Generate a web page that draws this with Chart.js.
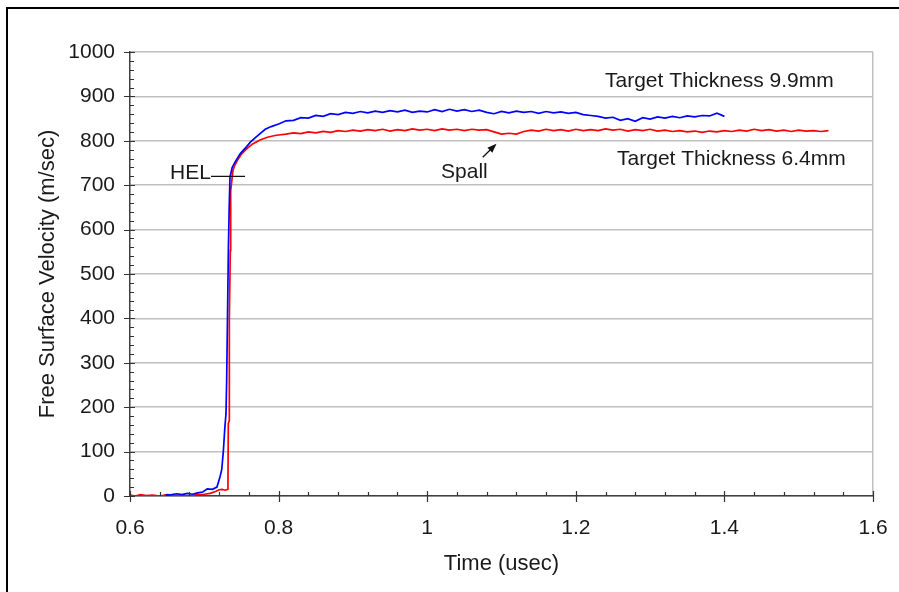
<!DOCTYPE html>
<html>
<head>
<meta charset="utf-8">
<title>Free Surface Velocity</title>
<script src="https://cdn.jsdelivr.net/npm/chart.js@4/dist/chart.umd.min.js"></script>
<style>
  html, body { margin: 0; padding: 0; background: #fff; }
  canvas { display: block; }
</style>
</head>
<body>
<canvas id="velocityChart" width="899" height="592"></canvas>
<script>
// values
const xTicks = [0.6, 0.8, 1, 1.2, 1.4, 1.6];
const yTicks = [0, 100, 200, 300, 400, 500, 600, 700, 800, 900, 1000];

// Target thickness 9.9mm (blue)
const thickTime = [
  0.648, 0.656, 0.663, 0.670, 0.677, 0.684, 0.691, 0.698, 0.704, 0.711,
  0.717, 0.721, 0.7235, 0.7256, 0.7275, 0.7292, 0.7301, 0.7312, 0.7324, 0.7335,
  0.7346, 0.7375, 0.7413, 0.745, 0.748, 0.752, 0.757, 0.762, 0.768, 0.775,
  0.782, 0.790,
  0.80, 0.81, 0.82, 0.83, 0.84, 0.85, 0.86, 0.87, 0.88, 0.89,
  0.90, 0.91, 0.92, 0.93, 0.94, 0.95, 0.96, 0.97, 0.98, 0.99,
  1.00, 1.01, 1.02, 1.03, 1.04, 1.05, 1.06, 1.07, 1.08, 1.09,
  1.10, 1.11, 1.12, 1.13, 1.14, 1.15, 1.16, 1.17, 1.18, 1.19,
  1.20, 1.21, 1.22, 1.23, 1.24, 1.25, 1.26, 1.27, 1.28, 1.29,
  1.30, 1.31, 1.32, 1.33, 1.34, 1.35, 1.36, 1.37, 1.38, 1.39,
  1.40
];
const thickVel = [
  2, 3, 5, 3, 6, 4, 7, 9, 16, 15,
  20, 42, 60, 100, 150, 186, 260, 400, 553, 650,
  718, 740, 752, 762, 770, 778, 787, 797, 806, 816,
  826, 832,
  838, 845, 846, 852, 851, 857, 855, 861, 859, 864,
  862, 866, 863, 867, 864, 868, 865, 869, 864, 867,
  865, 870, 866, 871, 867, 870, 866, 869, 864, 861,
  866, 863, 867, 864, 866, 862, 866, 863, 865, 862,
  864, 859, 857, 855, 851, 853, 846, 850, 844, 852,
  849, 854, 851, 855, 852, 856, 854, 857, 856, 862,
  855
];

// Target thickness 6.4mm (red)
const thinTime = [
  0.600, 0.607, 0.614, 0.622, 0.630, 0.640, 0.650, 0.660, 0.670, 0.680,
  0.690, 0.700, 0.708, 0.715, 0.720, 0.724, 0.728, 0.7318, 0.7323, 0.7337,
  0.7337, 0.7350, 0.7355, 0.7386, 0.741, 0.745, 0.750, 0.757, 0.765, 0.775,
  0.785, 0.795,
  0.80, 0.81, 0.82, 0.83, 0.84, 0.85, 0.86, 0.87, 0.88, 0.89,
  0.90, 0.91, 0.92, 0.93, 0.94, 0.95, 0.96, 0.97, 0.98, 0.99,
  1.00, 1.01, 1.02, 1.03, 1.04, 1.05, 1.06, 1.07, 1.08, 1.09,
  1.10, 1.11, 1.12, 1.13, 1.14, 1.15, 1.16, 1.17, 1.18, 1.19,
  1.20, 1.21, 1.22, 1.23, 1.24, 1.25, 1.26, 1.27, 1.28, 1.29,
  1.30, 1.31, 1.32, 1.33, 1.34, 1.35, 1.36, 1.37, 1.38, 1.39,
  1.40, 1.41, 1.42, 1.43, 1.44, 1.45, 1.46, 1.47, 1.48, 1.49,
  1.50, 1.51, 1.52, 1.53, 1.54
];
const thinVel = [
  2, 0, 3, 1, 2, 0, 3, 1, 2, 0,
  3, 4, 6, 10, 14, 15, 13, 15, 163, 170,
  400, 553, 688, 733, 745, 757, 770, 782, 793, 802,
  808, 812,
  813, 815, 818, 816, 820, 818, 821, 819, 823, 821,
  824, 822, 825, 823, 826, 822, 825, 823, 827, 824,
  826, 823, 827, 824, 826, 823, 826, 824, 825, 820,
  815, 817, 815, 821, 824, 822, 826, 823, 825, 822,
  826, 823, 825, 823, 827, 824, 826, 822, 825, 823,
  826, 822, 824, 821, 823, 820, 822, 819, 822, 820,
  823, 821, 824, 822, 826, 823, 825, 822, 824, 821,
  824, 822, 823, 821, 823
];

// text notes placed in data units
const notes = [
  { text: 'Target Thickness 9.9mm', x: 1.2393, y: 922 },
  { text: 'Target Thickness 6.4mm', x: 1.2555, y: 745 },
  { text: 'Spall', x: 1.0186, y: 716 },
  { text: 'HEL', x: 0.6538, y: 715 }
];

const FONT = '"Liberation Sans", Arial, sans-serif';
const TEXT = '#1a1a1a';

const toPoints = (xs, ys) => xs.map((x, i) => ({ x: x, y: ys[i] }));

const decorations = {
  id: 'decorations',
  beforeDraw(chart) {
    const ctx = chart.ctx;
    ctx.save();
    ctx.fillStyle = '#fff';
    ctx.fillRect(0, 0, chart.width, chart.height);
    ctx.restore();
  },
  afterDatasetsDraw(chart) {
    const { ctx, chartArea, scales: { x, y } } = chart;
    ctx.save();

    // minor and major tick marks
    ctx.strokeStyle = '#333';
    ctx.lineWidth = 1.2;
    ctx.beginPath();
    for (let k = 0; k <= 50; k++) {
      const py = Math.round(y.getPixelForValue(k * 20)) + 0.5;
      if (k % 5 === 0) {
        ctx.moveTo(chartArea.left - 6, py);
        ctx.lineTo(chartArea.left + 5, py);
      } else {
        ctx.moveTo(chartArea.left, py);
        ctx.lineTo(chartArea.left + 4, py);
      }
    }
    for (let k = 0; k <= 25; k++) {
      const px = Math.round(x.getPixelForValue(0.6 + k * 0.04)) + 0.5;
      if (k % 5 === 0) {
        ctx.moveTo(px, chartArea.bottom - 5);
        ctx.lineTo(px, chartArea.bottom + 6);
      } else {
        ctx.moveTo(px, chartArea.bottom - 4);
        ctx.lineTo(px, chartArea.bottom);
      }
    }
    ctx.stroke();

    // notes
    ctx.fillStyle = TEXT;
    ctx.font = '21px ' + FONT;
    ctx.textBaseline = 'alphabetic';
    ctx.textAlign = 'left';
    notes.forEach(n => {
      ctx.fillText(n.text, x.getPixelForValue(n.x), y.getPixelForValue(n.y));
    });

    // HEL marker line
    ctx.strokeStyle = '#111';
    ctx.lineWidth = 1.3;
    ctx.beginPath();
    ctx.moveTo(x.getPixelForValue(0.709), y.getPixelForValue(720));
    ctx.lineTo(x.getPixelForValue(0.7548), y.getPixelForValue(720));
    ctx.stroke();

    // spall arrow
    const x0 = x.getPixelForValue(1.0747), y0 = y.getPixelForValue(763);
    const x1 = x.getPixelForValue(1.0913), y1 = y.getPixelForValue(790);
    const ang = Math.atan2(y1 - y0, x1 - x0);
    ctx.beginPath();
    ctx.moveTo(x0, y0);
    ctx.lineTo(x1, y1);
    ctx.stroke();
    ctx.fillStyle = '#111';
    ctx.beginPath();
    ctx.moveTo(x1 + 2 * Math.cos(ang), y1 + 2 * Math.sin(ang));
    ctx.lineTo(x1 - 8 * Math.cos(ang - 0.45), y1 - 8 * Math.sin(ang - 0.45));
    ctx.lineTo(x1 - 8 * Math.cos(ang + 0.45), y1 - 8 * Math.sin(ang + 0.45));
    ctx.closePath();
    ctx.fill();

    ctx.restore();
  },
  afterDraw(chart) {
    // outer frame (left and top edges only are in view)
    const ctx = chart.ctx;
    ctx.save();
    ctx.fillStyle = '#000';
    ctx.fillRect(6, 7, 2, chart.height - 7);
    ctx.fillRect(6, 7, chart.width - 6, 2);
    ctx.restore();
  }
};

new Chart(document.getElementById('velocityChart'), {
  type: 'scatter',
  data: {
    datasets: [
      {
        label: 'Target Thickness 9.9mm',
        data: toPoints(thickTime, thickVel),
        showLine: true,
        borderColor: '#0000ff',
        borderWidth: 1.7,
        pointRadius: 0
      },
      {
        label: 'Target Thickness 6.4mm',
        data: toPoints(thinTime, thinVel),
        showLine: true,
        borderColor: '#ff0000',
        borderWidth: 1.7,
        pointRadius: 0
      }
    ]
  },
  options: {
    responsive: false,
    animation: false,
    layout: { padding: { top: 52, right: 26, left: 0, bottom: 0 } },
    plugins: {
      legend: { display: false },
      tooltip: { enabled: false }
    },
    scales: {
      x: {
        type: 'linear',
        min: 0.6,
        max: 1.6,
        afterBuildTicks: s => { s.ticks = xTicks.map(v => ({ value: v })); },
        afterFit: s => {
          s.height = 96;
          s.paddingLeft = 0;
          s.paddingRight = 0;
        },
        ticks: {
          color: TEXT,
          font: { family: FONT, size: 21 },
          padding: 20,
          maxRotation: 0,
          callback: v => String(v)
        },
        grid: {
          drawTicks: false,
          color: c => (c.tick && c.tick.value === 1.6 ? '#c0c0c0' : 'rgba(0,0,0,0)'),
          lineWidth: 1.5
        },
        border: { color: '#404040', width: 1.5 },
        title: {
          display: true,
          text: 'Time (usec)',
          color: TEXT,
          font: { family: FONT, size: 22 },
          padding: { top: 0, bottom: 15 }
        }
      },
      y: {
        min: 0,
        max: 1000,
        afterBuildTicks: s => { s.ticks = yTicks.map(v => ({ value: v })); },
        afterFit: s => { s.width = 130; },
        ticks: {
          color: TEXT,
          font: { family: FONT, size: 21 },
          padding: 15,
          callback: v => String(v)
        },
        grid: {
          drawTicks: false,
          color: '#c0c0c0',
          lineWidth: 1.5
        },
        border: { color: '#404040', width: 1.5 },
        title: {
          display: true,
          text: 'Free Surface Velocity (m/sec)',
          color: TEXT,
          font: { family: FONT, size: 22 },
          padding: { top: 35, bottom: 0 }
        }
      }
    }
  },
  plugins: [decorations]
});
</script>
</body>
</html>
